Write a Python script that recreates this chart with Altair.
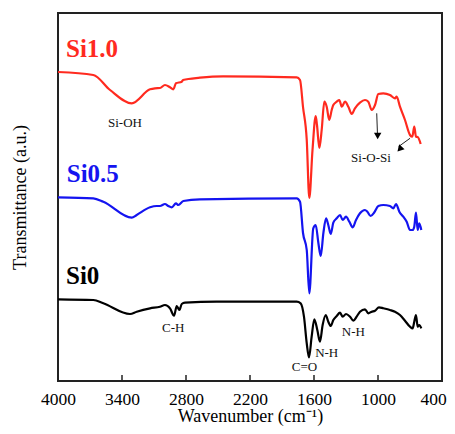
import altair as alt
import pandas as pd

# ---- data (wavenumber cm-1, transmittance a.u.) ----
red_w = [4000, 3669, 3512, 3309, 3137, 3091, 3044, 2997, 2950, 2919, 2894, 2840, 2828, 2669, 2453, 1762, 1731, 1703, 1668, 1644, 1614, 1584, 1572, 1550, 1528, 1503, 1481, 1457, 1434, 1419, 1387, 1363, 1340, 1309, 1278, 1247, 1216, 1169, 1122, 1091, 1059, 1028, 997, 950, 888, 841, 825, 794, 747, 700, 678, 660, 644, 628, 600]
red_t = [309, 306, 291, 277.7, 291.7, 292.7, 293, 296, 293.7, 291.7, 297.7, 299.3, 301, 303.3, 304.7, 303.7, 301, 274, 241, 183, 231, 265, 256, 233, 251, 279.3, 274.3, 261, 271, 276, 279.3, 281, 274.3, 279.3, 274.3, 267, 272.7, 278.3, 281, 279.3, 271, 276, 287, 287.7, 286, 282.7, 284.3, 274.3, 261, 246, 244.3, 254.3, 244.3, 244, 237]

blue_w = [4000, 3669, 3575, 3309, 3262, 3137, 3075, 3044, 2997, 2966, 2934, 2894, 2872, 2825, 2669, 1762, 1731, 1703, 1668, 1644, 1607, 1584, 1559, 1537, 1512, 1487, 1466, 1443, 1419, 1387, 1356, 1331, 1300, 1269, 1237, 1206, 1169, 1122, 1100, 1069, 1037, 997, 950, 888, 856, 831, 800, 763, 731, 700, 675, 660, 644, 628, 613, 594]
blue_t = [183.7, 182.7, 179.3, 163.3, 166, 173.7, 175, 175, 177, 175, 173.7, 177.7, 176, 180, 181.7, 182.7, 179.3, 148, 131, 87.7, 152.7, 156, 138, 125, 148, 162.7, 156, 147, 158.3, 162.7, 166, 161, 164.3, 159.3, 153.7, 161, 167.7, 171, 169.3, 165, 168.3, 175, 176, 175, 172.7, 177, 169.3, 164.3, 159.3, 151, 151, 154.3, 168.3, 151, 157.7, 151]

black_w = [4000, 3669, 3575, 3325, 3262, 3137, 3044, 2997, 2950, 2912, 2887, 2862, 2840, 2809, 2512, 1762, 1725, 1694, 1668, 1647, 1622, 1597, 1569, 1544, 1519, 1490, 1466, 1443, 1419, 1387, 1356, 1331, 1300, 1262, 1231, 1200, 1169, 1122, 1091, 1059, 1028, 991, 950, 888, 841, 794, 747, 700, 675, 660, 644, 628, 613, 594]
black_t = [81.7, 81, 77.7, 67, 69.3, 72.7, 74.3, 76, 72.7, 65.3, 75, 71, 77, 78.3, 79.3, 79.3, 77.7, 64.3, 37.7, 23.7, 44.3, 61.7, 51, 39.3, 56, 66, 59.3, 55, 61, 65, 68.3, 64.3, 67, 64.3, 60.3, 64.3, 69.3, 71.7, 67.7, 69.3, 70.3, 73.7, 72.7, 71, 69.3, 66, 60.3, 54.3, 52.7, 59.3, 66, 54.3, 56, 52.7]

samples = ["Si1.0", "Si0.5", "Si0"]
colors = ["#ff2a1f", "#1414f0", "#000000"]
x_ticks = [4000, 3400, 2800, 2200, 1600, 1000, 400]

# sample labels (left-aligned)
lab_text = ["Si1.0", "Si0.5", "Si0"]
lab_w = [3925, 3918, 3925]
lab_t = [324.3, 199.3, 96.7]

# band annotations (centered)
ann_text = ["Si-OH", "C-H", "C=O", "N-H", "N-H", "Si-O-Si"]
ann_w = [3372, 2919, 1689, 1481, 1231, 1066]
ann_t = [254.3, 48.7, 10.3, 24.3, 45, 219.3]

# arrows: line start/end and head
arr_w1 = [1012, 700]
arr_t1 = [267.7, 242.7]
arr_w2 = [1004, 806]
arr_t2 = [244, 234.5]
head_w = [1003, 790]
head_t = [246, 232.6]
head_angle = [180, 223]

# ---- tables ----
rows = []
for name, ws, ts in zip(samples, [red_w, blue_w, black_w], [red_t, blue_t, black_t]):
    for w, t in zip(ws, ts):
        rows.append({"sample": name, "w": w, "t": t})
spec = pd.DataFrame(rows)
labels = pd.DataFrame({"text": lab_text, "w": lab_w, "t": lab_t, "sample": samples})
ann = pd.DataFrame({"text": ann_text, "w": ann_w, "t": ann_t})
arrows = pd.DataFrame({"w": arr_w1, "t": arr_t1, "w2": arr_w2, "t2": arr_t2})
heads = pd.DataFrame({"w": head_w, "t": head_t, "angle": head_angle})
ticks = pd.DataFrame({"w": x_ticks})

FONT = "Liberation Serif"
xscale = alt.Scale(domain=[4000, 400], nice=False, zero=False)
yscale = alt.Scale(domain=[0, 368], nice=False, zero=False)
cscale = alt.Scale(domain=samples, range=colors)

x_enc = alt.X("w:Q", scale=xscale,
              axis=alt.Axis(values=x_ticks, title="Wavenumber (cm\u207b\u00b9)", ticks=False,
                            domain=False, grid=False, labelFlush=False, labelOverlap=False,
                            labelPadding=9, titlePadding=0, format="d",
                            labelOffset={"condition": {"test": "datum.value === 400", "value": -9}, "value": 0},
                            labelFont=FONT, titleFont=FONT))
y_enc = alt.Y("t:Q", scale=yscale,
              axis=alt.Axis(title="Transmittance (a.u.)", labels=False, ticks=False,
                            domain=False, grid=False, titlePadding=29,
                            labelFont=FONT, titleFont=FONT))

lines = alt.Chart(spec).mark_line(strokeWidth=2.2, strokeJoin="round", interpolate="monotone").encode(
    x=x_enc, y=y_enc,
    color=alt.Color("sample:N", scale=cscale, legend=None),
    detail="sample:N",
)

tick_marks = alt.Chart(ticks).mark_rule(color="#222222", strokeWidth=1.5).encode(
    x=alt.X("w:Q", scale=xscale), y=alt.value(368), y2=alt.value(362)
)

label_marks = alt.Chart(labels).mark_text(
    font=FONT, fontSize=25, fontWeight="bold", align="left", baseline="alphabetic"
).encode(
    x=alt.X("w:Q", scale=xscale), y=alt.Y("t:Q", scale=yscale), text="text:N",
    color=alt.Color("sample:N", scale=cscale, legend=None),
)

ann_marks = alt.Chart(ann).mark_text(
    font=FONT, fontSize=13, align="center", baseline="alphabetic", color="#111111"
).encode(x=alt.X("w:Q", scale=xscale), y=alt.Y("t:Q", scale=yscale), text="text:N")

arrow_lines = alt.Chart(arrows).mark_rule(color="#222222", strokeWidth=1).encode(
    x=alt.X("w:Q", scale=xscale), y=alt.Y("t:Q", scale=yscale),
    x2="w2:Q", y2="t2:Q",
)

arrow_heads = alt.Chart(heads).mark_point(
    shape="triangle", filled=True, size=55, color="#000000", opacity=1
).encode(
    x=alt.X("w:Q", scale=xscale), y=alt.Y("t:Q", scale=yscale),
    angle=alt.Angle("angle:Q", scale=None),
)

chart = alt.layer(lines, tick_marks, label_marks, ann_marks, arrow_lines, arrow_heads).properties(
    width=384, height=368,
    autosize=alt.AutoSizeParams(type="none"),
    padding={"left": 50, "top": 5, "right": 5, "bottom": 45},
).configure(
    font=FONT
).configure_view(
    stroke="#222222", strokeWidth=2
).configure_axis(
    labelFont=FONT, titleFont=FONT, labelFontSize=17.5, titleFontSize=18,
    labelColor="#000000", titleColor="#000000", titleFontWeight="normal",
)

chart.save("out.html", embed_options={"renderer": "svg", "actions": False})
